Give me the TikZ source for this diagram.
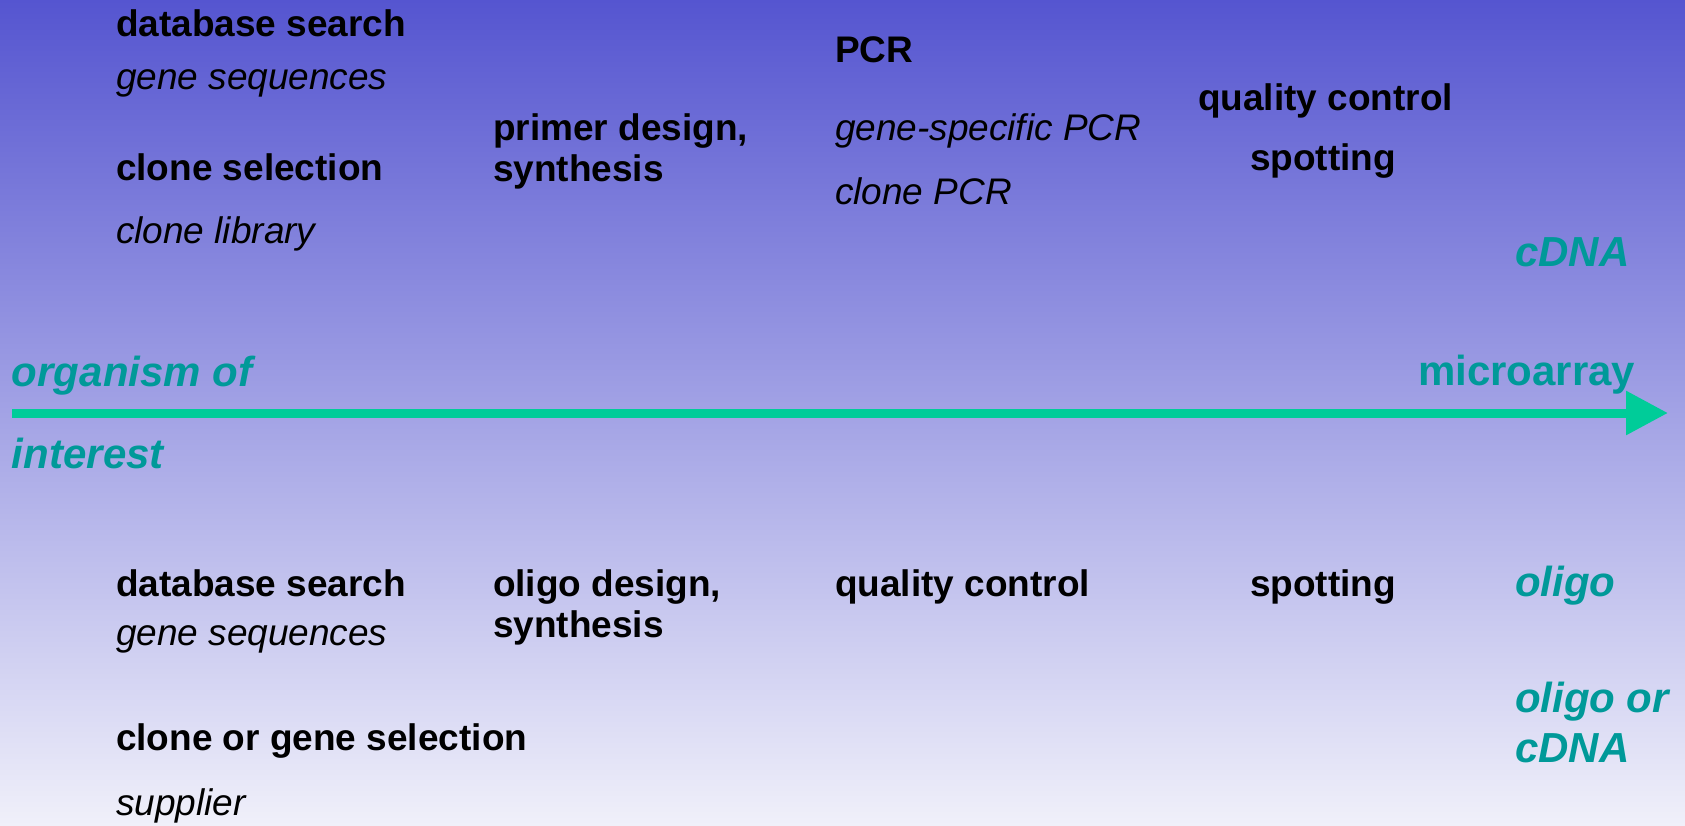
\documentclass[tikz,border=0pt]{standalone}
\usepackage{fontspec}
\setmainfont{Liberation Sans}
\usetikzlibrary{arrows.meta}
\definecolor{bgtop}{RGB}{85,85,208}
\definecolor{bgbot}{RGB}{240,240,250}
\definecolor{tealtxt}{RGB}{0,153,153}
\definecolor{arrowgreen}{RGB}{0,204,153}
\tikzset{
  lbl/.style={anchor=base west, inner sep=0pt, outer sep=0pt},
  stepname/.style={lbl, font=\fontsize{37}{44}\selectfont\bfseries, text=black},
  detail/.style={lbl, font=\fontsize{37}{44}\selectfont\itshape, text=black},
  kind/.style={lbl, font=\fontsize{42}{50}\selectfont\bfseries\itshape, text=tealtxt},
  endlabel/.style={lbl, font=\fontsize{42}{50}\selectfont\bfseries, text=tealtxt},
  mainarrow/.style={draw=arrowgreen, line width=9pt, -{Triangle[length=42pt, width=42pt]}}
}
\begin{document}
\begin{tikzpicture}[x=1pt, y=-1pt]
\useasboundingbox (0,0) rectangle (1685,825);
\shade[top color=bgtop, bottom color=bgbot] (0,0) rectangle (1685,825);

% upper (cDNA) route
\node[stepname] (ds1) at (116,36) {database search};
\node[detail]   (gs1) at (116,89) {gene sequences};
\node[stepname] (cs)  at (116,180) {clone selection};
\node[detail]   (cl)  at (116,243) {clone library};
\node[stepname] (pd)  at (493,140) {primer design,};
\node[stepname] (sy1) at (493,181) {synthesis};
\node[stepname] (pcr) at (835,62) {PCR};
\node[detail]   (gsp) at (835,140) {gene-specific PCR};
\node[detail]   (cpcr) at (835,204) {clone PCR};
\node[stepname] (qc1) at (1198,110) {quality control};
\node[stepname] (sp1) at (1250,170) {spotting};
\node[kind]     (cdna) at (1515,266) {cDNA};

% main axis
\node[kind] (org1) at (12,386) {organism of};
\node[kind] (org2) at (12,468) {interest};
\node[endlabel] (ma) at (1418,385) {microarray};
\coordinate (start) at (12,413);
\coordinate (end) at (1668,413);
\draw[mainarrow] (start) -- (end);

% lower (oligo) route
\node[stepname] (ds2) at (116,596) {database search};
\node[detail]   (gs2) at (116,645) {gene sequences};
\node[stepname] (cgs) at (116,750) {clone or gene selection};
\node[detail]   (sup) at (116,815) {supplier};
\node[stepname] (od)  at (493,596) {oligo design,};
\node[stepname] (sy2) at (493,637) {synthesis};
\node[stepname] (qc2) at (835,596) {quality control};
\node[stepname] (sp2) at (1250,596) {spotting};
\node[kind] (oligo) at (1515,596) {oligo};
\node[kind] (oor) at (1515,712) {oligo or};
\node[kind] (oorc) at (1515,762) {cDNA};
\end{tikzpicture}
\end{document}
